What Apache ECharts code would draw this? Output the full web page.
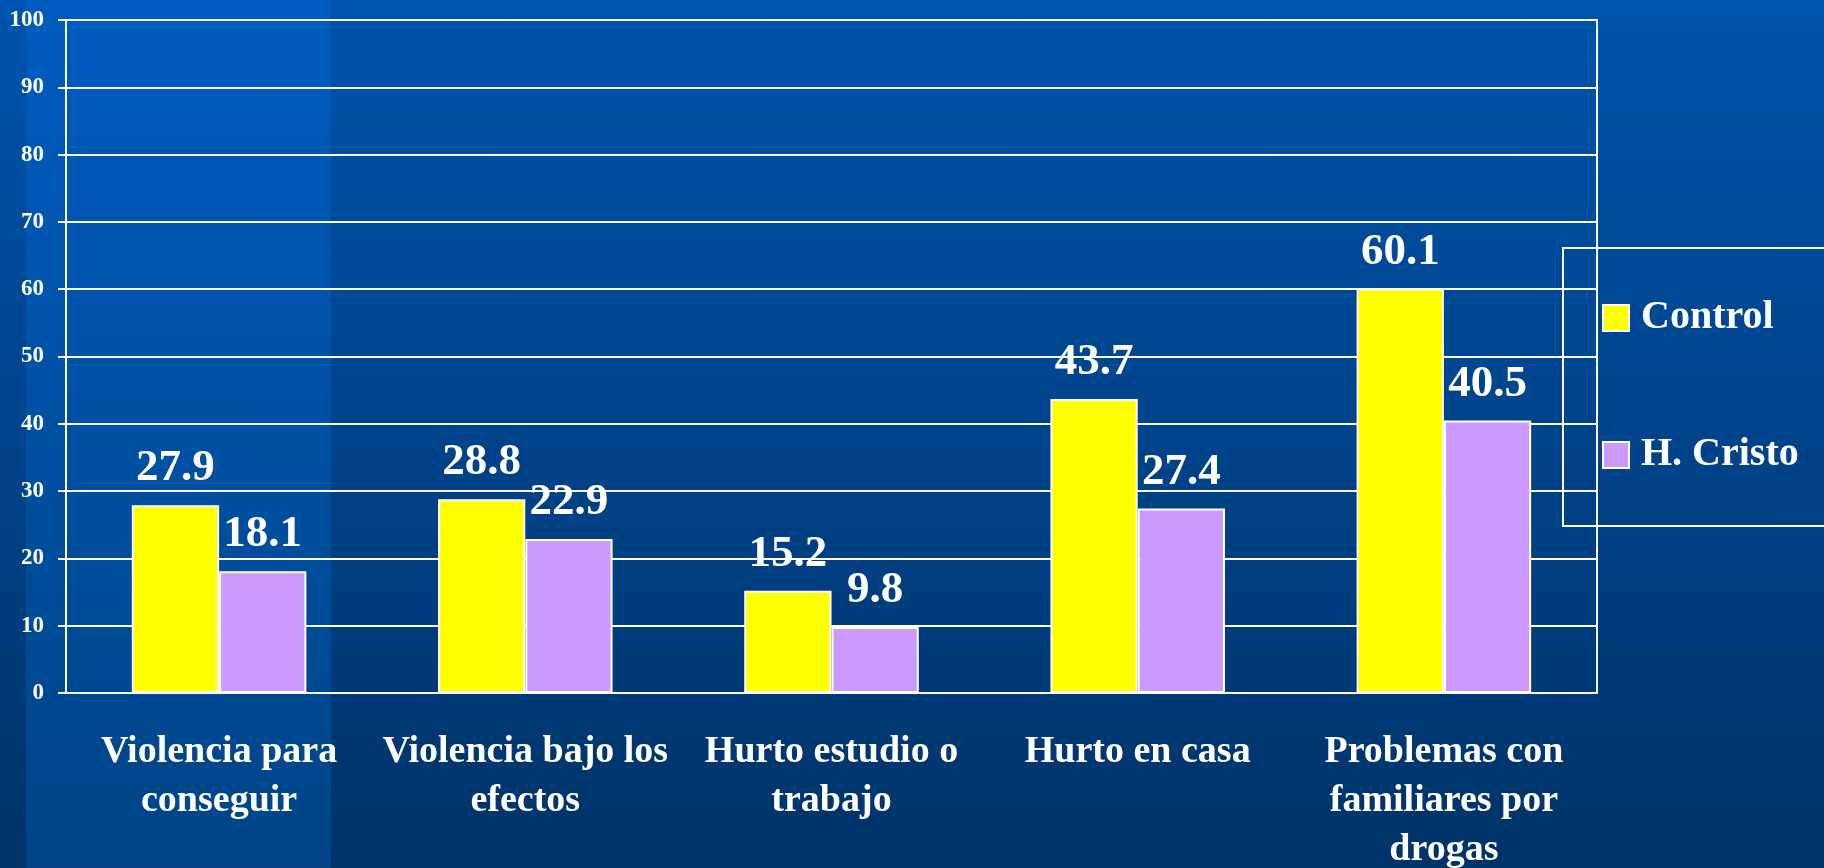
<!DOCTYPE html>
<html>
<head>
<meta charset="utf-8">
<script src="https://cdn.jsdelivr.net/npm/echarts@6/dist/echarts.min.js"></script>
<style>
  html, body { margin: 0; padding: 0; }
  #chart {
    width: 1824px;
    height: 868px;
    background:
      linear-gradient(180deg, rgba(0,92,192,1) 0%, rgba(0,68,134,1) 100%) 26px 0 / 305px 100% no-repeat,
      linear-gradient(180deg, #0054ad 0%, #003368 100%);
  }
</style>
</head>
<body>
<div id="chart"></div>
<script>
// categorias y valores
var categories = [
  'Violencia para\nconseguir',
  'Violencia bajo los\nefectos',
  'Hurto estudio o\ntrabajo',
  'Hurto en casa',
  'Problemas con\nfamiliares por\ndrogas'
]
var controlValues = [27.9, 28.8, 15.2, 43.7, 60.1]
var cristoValues = [18.1, 22.9, 9.8, 27.4, 40.5]
var seriesNames = ['Control', 'H. Cristo']

var serif = '"Liberation Serif", "Times New Roman", serif'
var chart = echarts.init(document.getElementById('chart'))

var option = {
  animation: false,
  textStyle: { fontFamily: serif },
  grid: {
    left: 66,
    top: 20,
    right: 227,
    bottom: 175,
    outerBoundsMode: 'none',
    show: true,
    borderColor: '#ffffff',
    borderWidth: 2
  },
  legend: {
    data: seriesNames,
    orient: 'vertical',
    left: 1563,
    top: 248,
    padding: [48, 70, 49, 39],
    itemGap: 93,
    itemWidth: 26,
    itemHeight: 26,
    icon: 'rect',
    borderColor: '#ffffff',
    borderWidth: 2,
    textStyle: {
      color: '#ffffff',
      fontSize: 40,
      fontWeight: 'bold',
      fontFamily: serif,
      lineHeight: 44,
      padding: [0, 0, 0, 7]
    }
  },
  xAxis: {
    type: 'category',
    data: categories,
    axisLine: { lineStyle: { color: '#ffffff', width: 2 } },
    axisTick: { length: 13, lineStyle: { color: '#ffffff', width: 2 } },
    axisLabel: {
      color: '#ffffff',
      fontSize: 38,
      fontWeight: 'bold',
      fontFamily: serif,
      lineHeight: 49,
      margin: 35,
      interval: 0
    }
  },
  yAxis: {
    type: 'value',
    min: 0,
    max: 100,
    interval: 10,
    axisLine: { show: true, lineStyle: { color: '#ffffff', width: 2 } },
    axisTick: { show: true, length: 8, lineStyle: { color: '#ffffff', width: 2 } },
    splitLine: { lineStyle: { color: '#ffffff', width: 2 } },
    axisLabel: {
      color: '#ffffff',
      fontSize: 23,
      fontWeight: 'bold',
      fontFamily: serif,
      margin: 22
    }
  },
  series: [
    {
      name: seriesNames[0],
      type: 'bar',
      data: controlValues,
      barGap: '0%',
      barCategoryGap: '43%',
      itemStyle: { color: '#ffff00', borderColor: '#ffffff', borderWidth: 2 },
      label: {
        show: true,
        position: 'top',
        distance: 14,
        color: '#ffffff',
        fontSize: 45,
        fontWeight: 'bold',
        fontFamily: serif
      }
    },
    {
      name: seriesNames[1],
      type: 'bar',
      data: cristoValues,
      barGap: '0%',
      barCategoryGap: '43%',
      itemStyle: { color: '#cc99ff', borderColor: '#ffffff', borderWidth: 2 },
      label: {
        show: true,
        position: 'top',
        distance: 14,
        color: '#ffffff',
        fontSize: 45,
        fontWeight: 'bold',
        fontFamily: serif
      }
    }
  ]
}
chart.setOption(option)
</script>
</body>
</html>
